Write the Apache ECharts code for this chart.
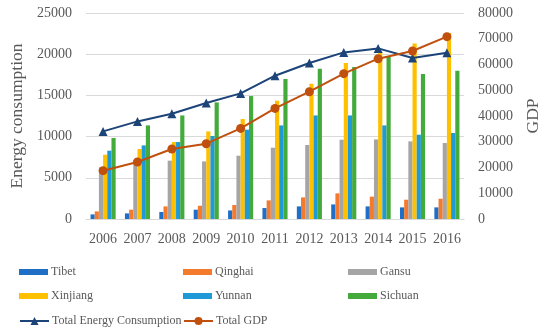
<!DOCTYPE html>
<html>
<head>
<meta charset="utf-8">
<script src="https://cdn.jsdelivr.net/npm/echarts@6/dist/echarts.min.js"></script>
<style>html,body{margin:0;padding:0;background:#fff}#c{width:550px;height:331px}</style>
</head>
<body>
<div id="c"></div>
<script>
const years = ['2006','2007','2008','2009','2010','2011','2012','2013','2014','2015','2016'];
const tibet    = [560, 680, 850, 1130, 1040, 1330, 1530, 1770, 1530, 1410, 1410];
const qinghai  = [920, 1130, 1530, 1610, 1700, 2260, 2620, 3110, 2710, 2340, 2460];
const gansu    = [6260, 6800, 7080, 6990, 7680, 8650, 8980, 9620, 9660, 9420, 9220];
const xinjiang = [7800, 8490, 9340, 10630, 12130, 14360, 16420, 18930, 20270, 21310, 22570];
const yunnan   = [8290, 8930, 9340, 10070, 10840, 11360, 12570, 12570, 11360, 10230, 10440];
const sichuan  = [9830, 11360, 12570, 14150, 14920, 16990, 18240, 18450, 19660, 17600, 18000];
const totalEnergy = [34020, 37900, 40890, 45050, 48780, 55650, 60580, 64700, 66250, 62520, 64580];
const totalGDP    = [18760, 22140, 27180, 29240, 35180, 42950, 49430, 56430, 62250, 65240, 70800];

const FONT = '"Liberation Serif", "DejaVu Serif", serif';
const TXT = '#595959';
const colors = {
  Tibet: '#1f6fc6', Qinghai: '#f47b2e', Gansu: '#a5a5a5',
  Xinjiang: '#ffc000', Yunnan: '#1f9ad6', Sichuan: '#45aa3c'
};
const barData = {Tibet: tibet, Qinghai: qinghai, Gansu: gansu, Xinjiang: xinjiang, Yunnan: yunnan, Sichuan: sichuan};

const chart = echarts.init(document.getElementById('c'), null, {renderer: 'canvas'});

const series = Object.keys(barData).map(k => ({
  name: k, type: 'bar', yAxisIndex: 0, data: barData[k],
  itemStyle: {color: colors[k]}, barGap: '0%', barCategoryGap: '27%'
}));
series.push({
  name: 'Total Energy Consumption', type: 'line', yAxisIndex: 1, data: totalEnergy,
  symbol: 'triangle', symbolSize: 9, lineStyle: {color: '#1c4478', width: 2},
  itemStyle: {color: '#1c4478'}, z: 5
});
series.push({
  name: 'Total GDP', type: 'line', yAxisIndex: 1, data: totalGDP,
  symbol: 'circle', symbolSize: 9, lineStyle: {color: '#c0500e', width: 2},
  itemStyle: {color: '#c0500e'}, z: 5
});

const legendPos = [
  ['Tibet', 19, 266], ['Qinghai', 183, 266], ['Gansu', 348, 266],
  ['Xinjiang', 19, 290], ['Yunnan', 183, 290], ['Sichuan', 348, 290],
  ['Total Energy Consumption', 19, 315], ['Total GDP', 183, 315]
];
const legends = legendPos.map(([n, x, y], i) => ({
  data: [n], left: x, top: y, padding: 0,
  itemWidth: 29, itemHeight: i < 6 ? 6 : 10, itemGap: 3,
  icon: i < 6 ? 'rect' : undefined,
  textStyle: {fontFamily: FONT, fontSize: 12, color: TXT, padding: [0, 0, 0, -2]},
  selectedMode: false
}));

const fmt = v => String(v);

chart.setOption({
  animation: false,
  grid: {left: 77, right: 78, top: 13, bottom: 112},
  legend: legends,
  xAxis: {
    type: 'category', data: years,
    axisLine: {lineStyle: {color: '#d9d9d9'}}, axisTick: {show: false},
    axisLabel: {fontFamily: FONT, fontSize: 14, color: TXT, margin: 13, interval: 0}
  },
  yAxis: [{
    type: 'value', min: 0, max: 25000, interval: 5000,
    name: 'Energy consumption', nameLocation: 'middle', nameGap: 57,
    nameTextStyle: {fontFamily: FONT, fontSize: 17.5, color: TXT},
    axisLabel: {fontFamily: FONT, fontSize: 14, color: TXT, margin: 14, formatter: fmt},
    splitLine: {lineStyle: {color: '#d9d9d9'}}, axisLine: {show: false}, axisTick: {show: false}
  }, {
    type: 'value', min: 0, max: 80000, interval: 10000, position: 'right',
    name: 'GDP', nameLocation: 'middle', nameGap: 58, nameRotate: 90,
    nameTextStyle: {fontFamily: FONT, fontSize: 17.5, color: TXT},
    axisLabel: {fontFamily: FONT, fontSize: 14, color: TXT, margin: 14, formatter: fmt},
    splitLine: {show: false}, axisLine: {show: false}, axisTick: {show: false}
  }],
  series: series
});
</script>
</body>
</html>
